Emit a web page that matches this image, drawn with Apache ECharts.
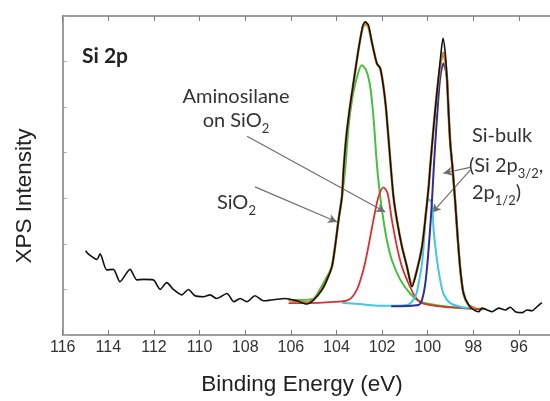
<!DOCTYPE html>
<html>
<head>
<meta charset="utf-8">
<script src="https://cdn.jsdelivr.net/npm/echarts@6/dist/echarts.min.js"></script>
<style>html,body{margin:0;padding:0;background:#fff}#c{width:550px;height:401px}</style>
</head>
<body>
<div id="c"></div>
<script>
// Binding energy (eV) / intensity (a.u.) pairs
const measured = [
[115.0,1.85],[114.88,1.78],[114.5,1.66],[114.36,1.78],[114.07,1.43],[113.78,1.44],[113.49,1.17],
[113.05,1.44],[112.75,1.21],[112.46,1.22],[112.03,1.21],[111.73,1.0],[111.44,1.15],[111.15,1.0],
[110.78,0.88],[110.49,1.0],[110.2,0.86],[109.83,0.84],[109.54,0.88],[109.25,0.80],[108.8,0.91],
[108.5,0.73],[108.22,0.80],[107.93,0.73],[107.57,0.86],[107.2,0.75],[106.69,0.78],[106.25,0.80],
[105.74,0.75],[105.3,0.68],[105.0,0.77],[104.64,0.99],[104.42,1.21],[104.2,1.50],[104.06,1.94],
[103.91,2.52],[103.76,3.03],[103.69,3.62],[103.57,4.35],[103.43,4.93],[103.28,5.45],[103.14,5.92],
[102.99,6.40],[102.84,6.80],[102.74,6.87],[102.6,6.80],[102.45,6.43],[102.23,5.96],[102.08,5.85],
[101.94,5.45],[101.82,4.93],[101.62,3.7],[101.5,3.03],[101.35,2.52],[101.13,1.94],[100.91,1.50],
[100.69,1.06],[100.47,1.43],[100.25,1.94],[100.11,2.52],[99.96,3.25],[99.89,3.7],[99.74,4.57],
[99.6,5.3],[99.45,6.03],[99.33,6.51],[99.23,6.18],[99.16,5.66],[99.09,4.93],[99.01,4.2],
[98.92,3.7],[98.79,2.89],[98.69,2.16],[98.57,1.43],[98.43,0.91],[98.21,0.66],[97.98,0.55],
[97.77,0.51],[97.62,0.59],[97.4,0.55],[97.18,0.51],[96.89,0.59],[96.6,0.55],[96.38,0.61],
[96.16,0.51],[95.87,0.49],[95.65,0.55],[95.43,0.53],[95.21,0.62],[95.0,0.71]
];
const fitSum = [
[106.1,0.77],[105.3,0.72],[105.0,0.78],[104.64,0.99],[104.42,1.21],[104.2,1.50],[104.06,1.94],
[103.91,2.52],[103.76,3.03],[103.69,3.62],[103.57,4.35],[103.43,4.93],[103.28,5.45],[103.14,5.92],
[102.99,6.40],[102.84,6.76],[102.74,6.82],[102.6,6.76],[102.45,6.43],[102.23,5.96],[102.08,5.85],
[101.94,5.45],[101.82,4.93],[101.62,3.7],[101.5,3.03],[101.35,2.52],[101.13,1.94],[100.91,1.50],
[100.69,1.08],[100.47,1.43],[100.25,1.94],[100.11,2.52],[99.96,3.25],[99.89,3.7],[99.74,4.57],
[99.6,5.3],[99.45,5.9],[99.33,6.2],[99.23,6.0],[99.16,5.66],[99.09,4.93],[99.01,4.2],
[98.92,3.7],[98.79,2.89],[98.69,2.16],[98.57,1.43],[98.43,0.91],[98.21,0.66],[97.9,0.58]
];
const sio2 = [
[106.1,0.77],[105.59,0.77],[105.01,0.80],[104.71,1.02],[104.42,1.28],[104.2,1.50],[104.06,1.94],
[103.91,2.52],[103.76,3.03],[103.62,3.62],[103.47,4.57],[103.32,5.15],[103.1,5.66],[102.89,5.92],
[102.7,5.81],[102.52,5.45],[102.38,4.79],[102.22,3.7],[102.08,3.03],[101.94,2.52],[101.79,2.08],
[101.57,1.64],[101.2,1.21],[100.77,0.91],[100.33,0.73],[99.45,0.64],[98.57,0.59],[97.48,0.57]
];
const aminosilane = [
[106.1,0.70],[105.3,0.70],[104.28,0.72],[103.47,0.77],[103.11,0.99],[102.82,1.43],[102.6,1.94],
[102.38,2.52],[102.16,3.03],[101.94,3.24],[101.76,3.11],[101.57,2.52],[101.35,1.94],[101.13,1.50],
[100.84,1.13],[100.55,0.84],[100.25,0.70],[99.5,0.63],[98.5,0.59],[97.6,0.56]
];
const si2p12 = [
[103.76,0.71],[103.0,0.68],[102.08,0.64],[100.91,0.66],[100.55,0.84],[100.4,1.13],[100.25,1.57],
[100.15,2.16],[100.07,2.74],[99.96,2.98],[99.82,2.89],[99.74,2.30],[99.63,1.79],[99.48,1.28],
[99.31,0.91],[99.01,0.70],[98.57,0.62],[98.2,0.59]
];
const si2p32 = [
[101.6,0.63],[100.4,0.66],[100.18,0.91],[100.04,1.43],[99.92,2.16],[99.82,2.89],[99.74,3.62],
[99.67,4.2],[99.57,4.93],[99.45,5.66],[99.31,5.96],[99.16,5.66],[99.09,4.93],[99.01,4.2],
[98.9,3.62],[98.79,2.89],[98.69,2.16],[98.57,1.43],[98.43,0.91],[98.21,0.66],[98.0,0.6]
];
// annotation arrows: [start, end] in data coordinates
const arrowLines = [
  [[107.92,4.36],[101.86,2.70]],
  [[107.57,3.25],[103.97,2.48]],
  [[98.14,3.68],[99.32,3.55]],
  [[98.14,3.62],[99.81,2.68]]
];
const xMin = 94, xMax = 116, xStep = 2;
const yMin = 0, yMax = 7, yStep = 1;

const chart = echarts.init(document.getElementById('c'), null, {renderer:'canvas'});
const axisCol = '#7d7d7d';
const lbl = {fontFamily:'Liberation Sans', fontSize:16, color:'#333'};
const sub = {fontSize:13, lineHeight:13, verticalAlign:'bottom', fontFamily:'Lato', fill:'#333', color:'#333'};

function line(name, data, color, width, z, smooth) {
  return {name, type:'line', data, showSymbol:false, symbol:'none', smooth: smooth, z,
    lineStyle:{color, width}, itemStyle:{color}, animation:false};
}

const option = {
  animation:false,
  grid:{left:62.7, top:16, width:501.9, bottom:66, show:false, containLabel:false, outerBoundsMode:'none'},
  xAxis:[{
    type:'value', inverse:true, min:xMin, max:xMax, interval:xStep,
    axisLine:{show:true, onZero:false, lineStyle:{color:axisCol, width:1.5}},
    axisTick:{show:true, inside:true, length:5, lineStyle:{color:axisCol, width:1}},
    axisLabel:Object.assign({margin:5, showMinLabel:false}, lbl),
    splitLine:{show:false}
  },{
    type:'value', inverse:true, min:xMin, max:xMax, interval:xStep, position:'top',
    axisLine:{show:true, onZero:false, lineStyle:{color:axisCol, width:1.5}},
    axisTick:{show:true, inside:true, length:5, lineStyle:{color:axisCol, width:1}},
    axisLabel:{show:false}, splitLine:{show:false}
  }],
  yAxis:{
    type:'value', min:yMin, max:yMax, interval:yStep,
    axisLine:{show:true, onZero:false, lineStyle:{color:axisCol, width:1.5}},
    axisTick:{show:true, inside:true, length:4, lineStyle:{color:'#aaa', width:1}},
    axisLabel:{show:false}, splitLine:{show:false}
  },
  series:[
    line('SiO2', sio2, '#45c03f', 2, 3, 0.3),
    line('Aminosilane', aminosilane, '#d63030', 1.8, 4, 0.3),
    line('Si 2p1/2', si2p12, '#45c8df', 2, 5, 0.3),
    line('Si 2p3/2', si2p32, '#2e2f9c', 2, 6, 0.3),
    line('Fit', fitSum, '#c98a3c', 2.6, 7, 0.25),
    Object.assign(line('Measured', measured, '#111', 1.6, 8, 0.25), {
      markLine:{silent:true, symbol:['none','arrow'], symbolSize:[7,9], animation:false,
        label:{show:false},
        lineStyle:{color:'#6f6f6f', width:1.2, type:'solid'},
        data: arrowLines.map(a => [{coord:a[0]},{coord:a[1]}])}
    })
  ],
  graphic:[
    {type:'text', x:82, y:56, style:{text:'Si 2p', font:'bold 21px Lato', fill:'#222', verticalAlign:'middle'}},
    {type:'text', x:236, y:97, style:{text:'Aminosilane', font:'20px Lato', fill:'#333', align:'center', verticalAlign:'middle'}},
    {type:'text', x:236, y:121, style:{text:'on SiO{s|2}', font:'20px Lato', fill:'#333', align:'center', verticalAlign:'middle', lineHeight:28, rich:{s:sub}}},
    {type:'text', x:217, y:203, style:{text:'SiO{s|2}', font:'20px Lato', fill:'#333', verticalAlign:'middle', lineHeight:28, rich:{s:sub}}},
    {type:'text', x:472, y:136, style:{text:'Si-bulk', font:'20px Lato', fill:'#333', verticalAlign:'middle'}},
    {type:'text', x:469, y:166, style:{text:'(Si 2p{s|3/2},', font:'20px Lato', fill:'#333', verticalAlign:'middle', lineHeight:28, rich:{s:sub}}},
    {type:'text', x:472, y:193, style:{text:'2p{s|1/2})', font:'20px Lato', fill:'#333', verticalAlign:'middle', lineHeight:28, rich:{s:sub}}},
    {type:'text', x:25, y:196, rotation:Math.PI/2, style:{text:'XPS Intensity', font:'22.5px Liberation Sans', fill:'#222', align:'center', verticalAlign:'middle'}},
    {type:'text', x:302, y:385, style:{text:'Binding Energy (eV)', font:'22.5px Liberation Sans', fill:'#222', align:'center', verticalAlign:'middle'}}
  ]
};
chart.setOption(option);
</script>
</body>
</html>
